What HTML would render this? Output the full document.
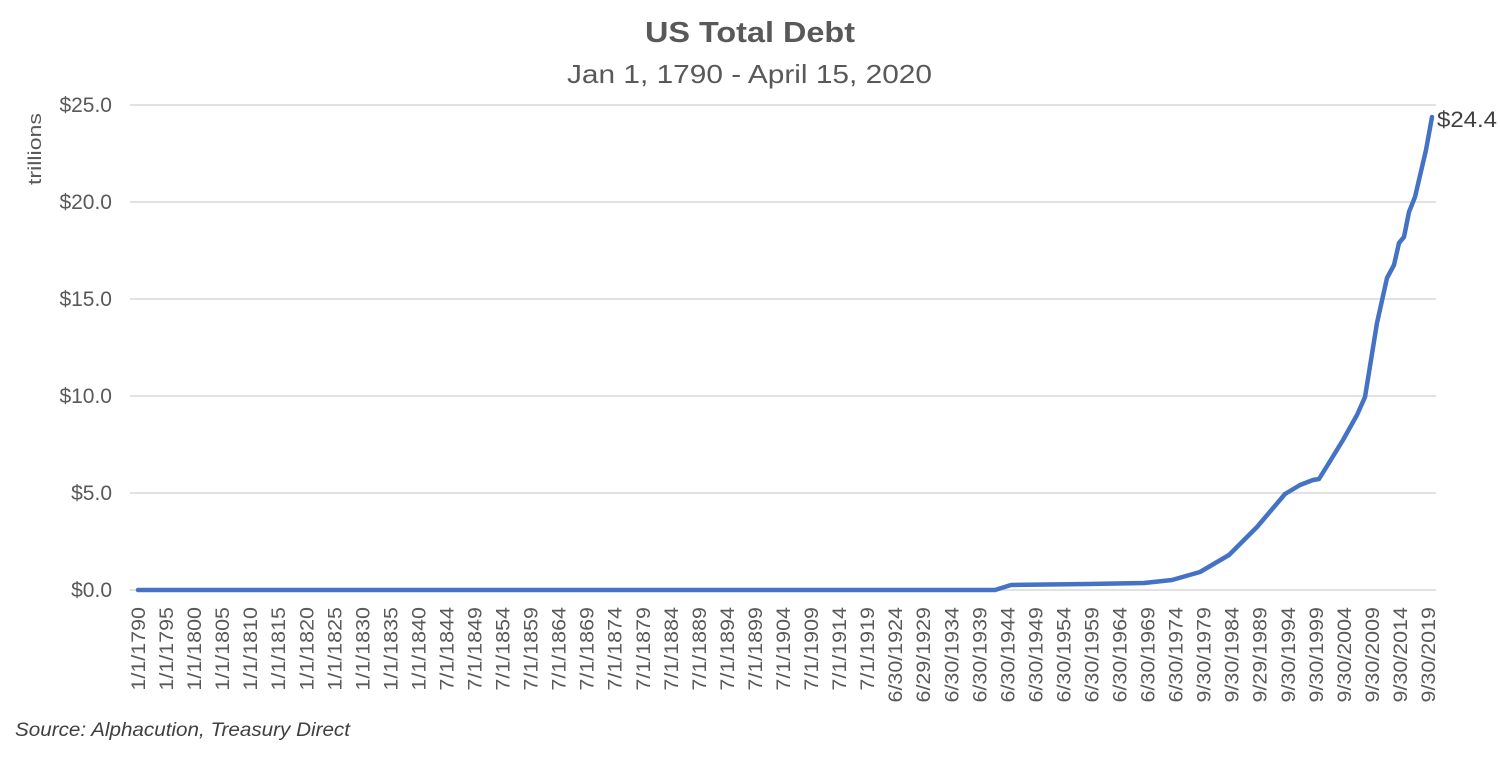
<!DOCTYPE html>
<html><head><meta charset="utf-8"><style>
html,body{margin:0;padding:0;background:#fff;}
svg{display:block;font-family:"Liberation Sans",sans-serif;}
</style></head><body>
<svg width="1500" height="757" xmlns="http://www.w3.org/2000/svg">
<text x="645" y="42" font-size="29" font-weight="bold" fill="#595959" textLength="210" lengthAdjust="spacingAndGlyphs">US Total Debt</text>
<text x="567" y="83" font-size="26" fill="#595959" textLength="365" lengthAdjust="spacingAndGlyphs">Jan 1, 1790 - April 15, 2020</text>
<g stroke="#d9d9d9" stroke-width="1.5">
<line x1="130" x2="1436" y1="105" y2="105"/>
<line x1="130" x2="1436" y1="202" y2="202"/>
<line x1="130" x2="1436" y1="299" y2="299"/>
<line x1="130" x2="1436" y1="396" y2="396"/>
<line x1="130" x2="1436" y1="493" y2="493"/>
<line x1="130" x2="1436" y1="590" y2="590"/>
</g>
<g font-size="21" fill="#595959" text-anchor="end">
<text x="112" y="112">$25.0</text>
<text x="112" y="209">$20.0</text>
<text x="112" y="306">$15.0</text>
<text x="112" y="403">$10.0</text>
<text x="112" y="500">$5.0</text>
<text x="112" y="597">$0.0</text>
</g>
<text transform="translate(41,113) rotate(-90)" text-anchor="end" font-size="18" fill="#595959" textLength="72" lengthAdjust="spacingAndGlyphs">trillions</text>
<polyline fill="none" stroke="#4472c4" stroke-width="4.5" stroke-linejoin="round" stroke-linecap="round"
points="138,590 995,590 1011,585 1088,584 1144,583 1172,580 1200,572 1229,555 1257,527 1285,494 1300,485 1313,480 1319,479 1332,458 1343,440 1357,415 1365,397 1377,323 1387,278 1394,265 1399,243 1404,237 1409,212 1415,197 1426,150 1432,117"/>
<text x="1437" y="127" font-size="22" fill="#404040" textLength="60" lengthAdjust="spacingAndGlyphs">$24.4</text>
<g font-size="19" fill="#595959" id="xl"></g>
<text x="15" y="736" font-size="19" font-style="italic" fill="#404040" textLength="335" lengthAdjust="spacingAndGlyphs">Source: Alphacution, Treasury Direct</text>
<script>
var labels=[];
for(var y=1790;y<=1840;y+=5)labels.push("1/1/"+y);
for(var y=1844;y<=1919;y+=5)labels.push("7/1/"+y);
labels.push("6/30/1924","6/29/1929");
for(var y=1934;y<=1974;y+=5)labels.push("6/30/"+y);
labels.push("9/30/1979","9/30/1984","9/29/1989");
for(var y=1994;y<=2019;y+=5)labels.push("9/30/"+y);
var g=document.getElementById("xl");
labels.forEach(function(l,i){
var x=138+i*(1290/46)+7;
var t=document.createElementNS("http://www.w3.org/2000/svg","text");
t.setAttribute("transform","translate("+x+",607) rotate(-90)");
t.setAttribute("text-anchor","end");
t.textContent=l;g.appendChild(t);
var len=t.getComputedTextLength();
t.setAttribute("textLength",(len*1.13).toFixed(1));
t.setAttribute("lengthAdjust","spacingAndGlyphs");
});
</script>
</svg>
</body></html>
